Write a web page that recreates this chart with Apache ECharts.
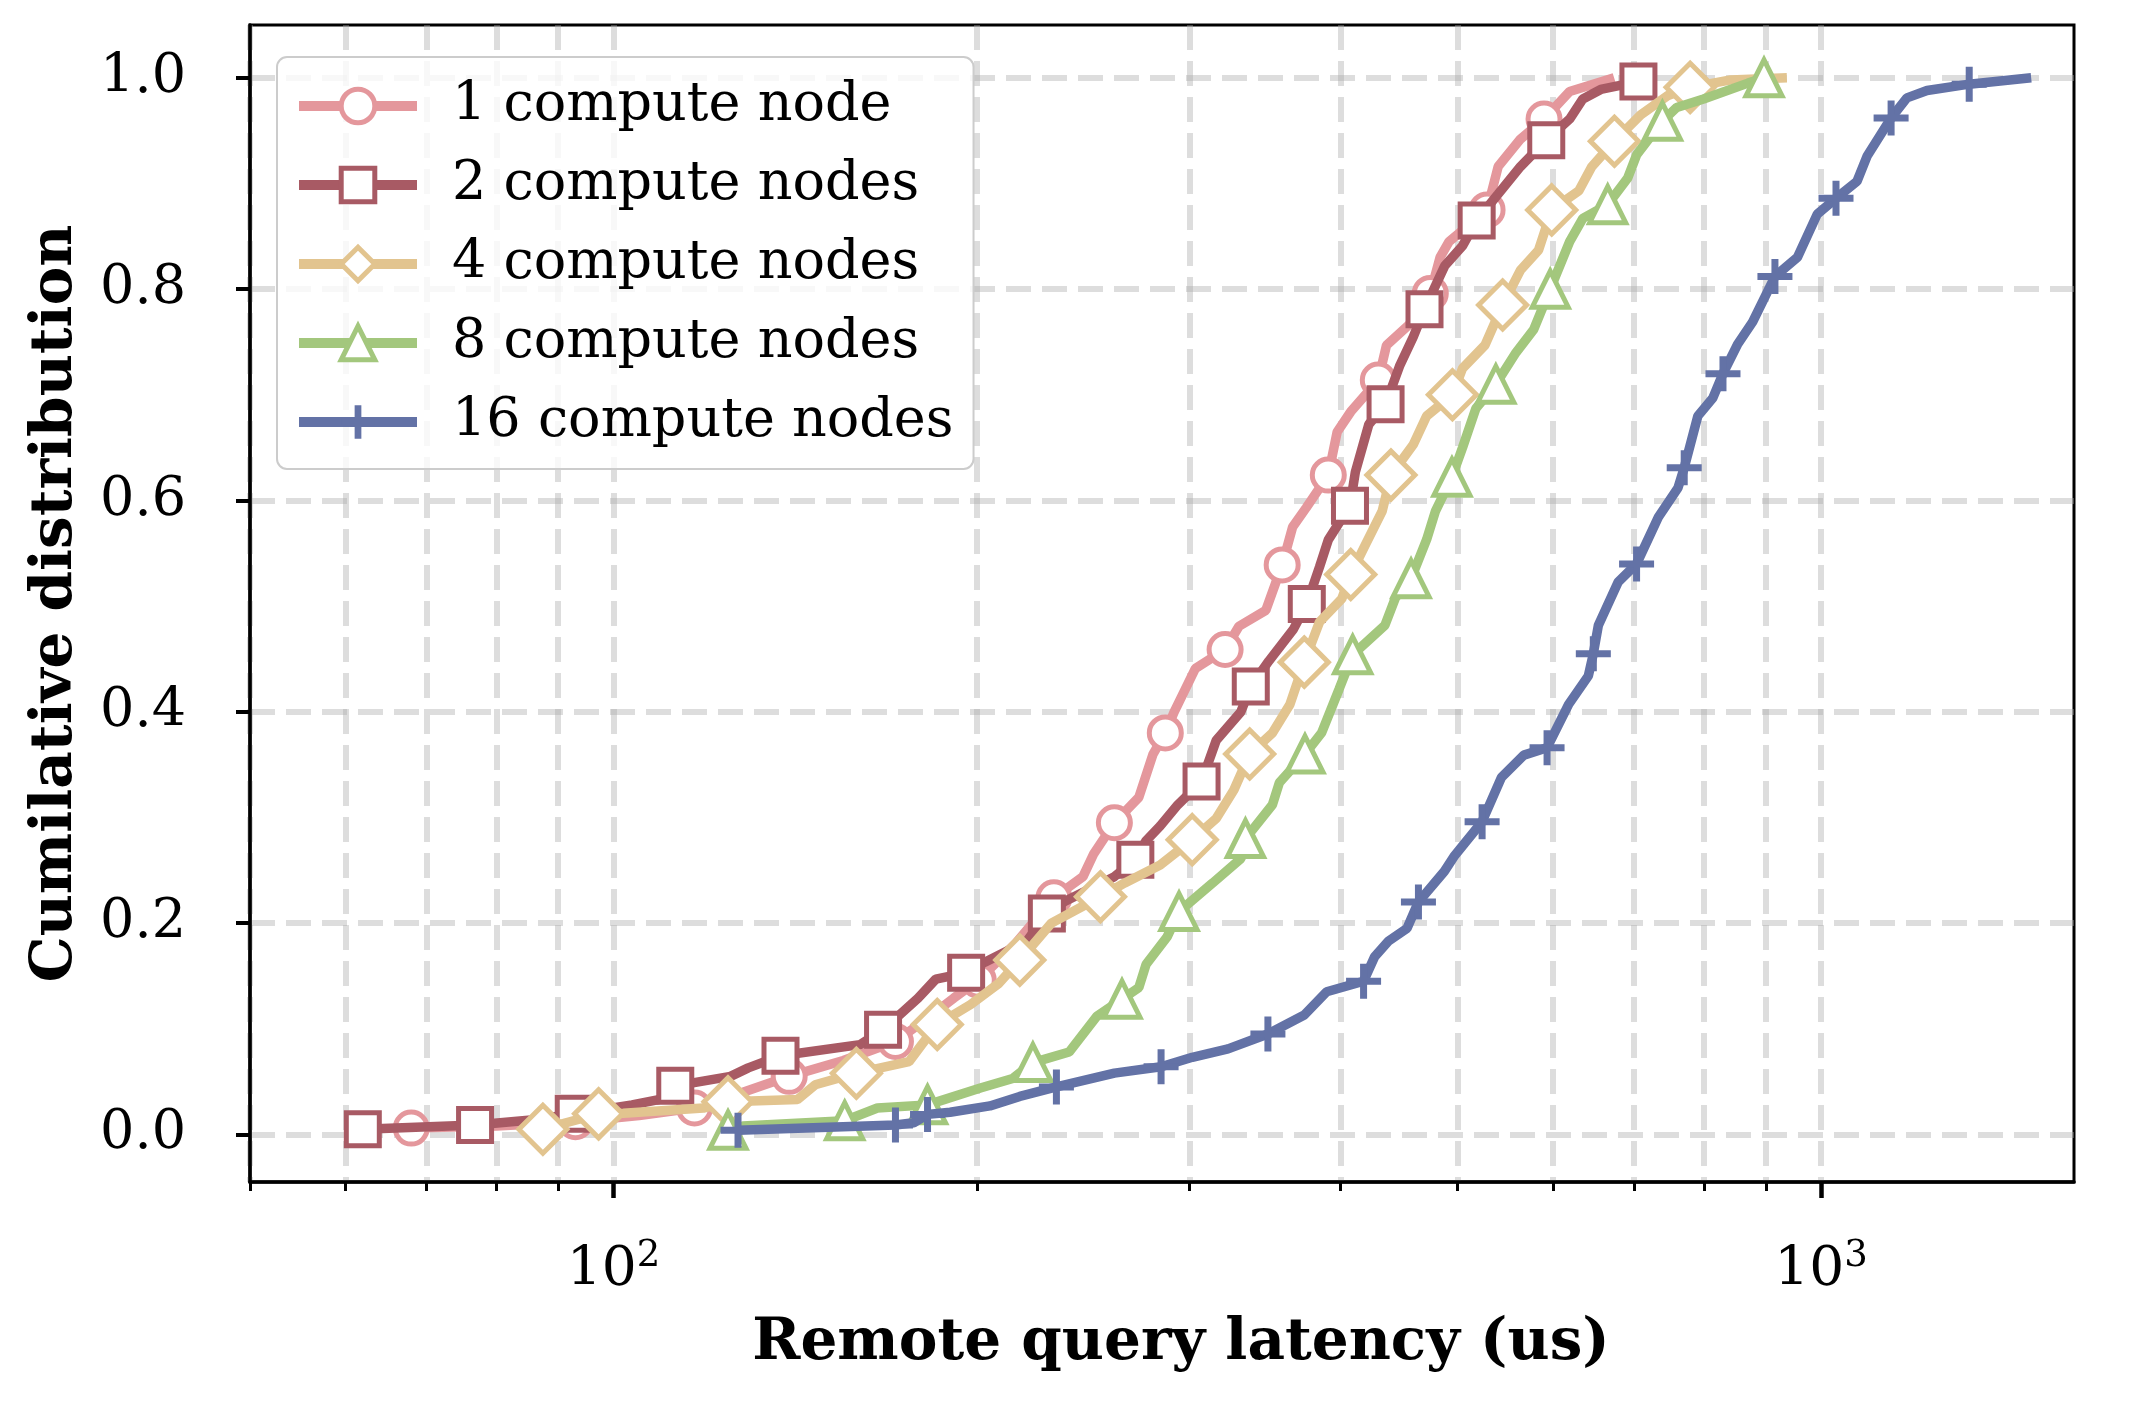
<!DOCTYPE html>
<html>
<head>
<meta charset="utf-8">
<script src="https://cdn.jsdelivr.net/npm/echarts@6/dist/echarts.min.js"></script>
<style>
html, body { margin: 0; padding: 0; background: #fff; }
#chart { width: 2140px; height: 1402px; }
</style>
</head>
<body>
<div id="chart"></div>
<script>
// legend names
const seriesNames = ['1 compute node', '2 compute nodes', '4 compute nodes', '8 compute nodes', '16 compute nodes'];

// [latency (us), cumulative fraction, 1 = marker drawn here]
const node1 = [[68,0.006,1],[80,0.008,0],[93,0.012,1],[105,0.018,0],[116.7,0.025,1],[128,0.040,0],[139.8,0.055,1],[155,0.070,0],
  [171.2,0.088,1],[182,0.110,0],[191.3,0.129,0],[200.5,0.146,1],[215,0.180,0],[231.6,0.224,1],[244.8,0.244,0],[249.7,0.265,0],
  [259.9,0.295,1],[272.3,0.319,0],[279.8,0.360,0],[286.4,0.380,1],[291.3,0.400,0],[303.3,0.441,0],[321,0.459,1],[329.6,0.481,0],
  [346.9,0.496,0],[357.9,0.539,1],[365.1,0.575,0],[374.6,0.593,0],[390.8,0.624,1],[397.5,0.665,0],[407.9,0.684,0],[429.9,0.714,1],
  [436.7,0.747,0],[455.6,0.766,0],[474.7,0.796,1],[483.6,0.830,0],[492,0.845,0],[529,0.875,1],[540.3,0.916,0],[563.8,0.942,0],
  [589.7,0.961,1],[619.2,0.987,0],[674,1.0,0]];

const node2 = [[62,0.005,1],[76.8,0.009,1],[85.9,0.014,0],[92.7,0.0195,1],[103.6,0.028,0],[109,0.033,0],[112.5,0.046,1],[125,0.055,0],
  [129.3,0.063,0],[137.5,0.0745,1],[160,0.085,0],[167.2,0.099,1],[178.7,0.129,0],[184.9,0.147,0],[195.9,0.153,1],[203,0.163,0],
  [220,0.183,0],[228.5,0.209,1],[236.8,0.221,0],[259.9,0.244,0],[270.5,0.260,1],[276.1,0.278,0],[283.6,0.292,0],[293.3,0.312,0],
  [306.9,0.334,1],[315.6,0.373,0],[330.8,0.400,0],[337.1,0.424,1],[348.9,0.448,0],[365.6,0.478,0],[375.1,0.502,1],[384.3,0.537,0],
  [390.9,0.563,0],[407.3,0.595,1],[411.5,0.627,0],[422.2,0.672,0],[435.9,0.691,1],[448,0.728,0],[459.6,0.755,0],[469.5,0.781,1],
  [487.9,0.822,0],[504.8,0.841,0],[518.6,0.865,1],[540.3,0.890,0],[563.8,0.916,0],[592.2,0.941,1],[619.2,0.961,0],[635,0.980,0],
  [657,0.989,0],[706,0.9965,1]];

const node4 = [[87.4,0.005,1],[92,0.012,0],[97.2,0.0195,1],[101.9,0.020,0],[118.7,0.025,0],[124.4,0.031,1],[142,0.033,0],[146.9,0.047,0],
  [158.9,0.058,1],[175.7,0.069,0],[180,0.085,0],[185.4,0.104,1],[197.6,0.123,0],[208.5,0.143,0],[217,0.165,1],[230.5,0.200,0],
  [253.1,0.225,1],[265.1,0.238,0],[283.6,0.255,0],[301.5,0.279,1],[315.6,0.299,0],[326.4,0.326,0],[336.4,0.360,1],[351.3,0.380,0],
  [363.2,0.407,0],[373.3,0.447,1],[384.3,0.485,0],[401,0.507,0],[407.9,0.530,1],[418.6,0.556,0],[433.1,0.590,0],[440.4,0.624,1],
  [459.6,0.653,0],[471.4,0.680,0],[495.2,0.700,1],[504.8,0.725,0],[526.9,0.747,0],[544.9,0.785,1],[563.8,0.818,0],[583.6,0.837,0],
  [598.4,0.875,1],[630,0.893,0],[646,0.916,0],[674.4,0.940,1],[709,0.965,0],[746,0.983,0],[779.2,0.991,1],[841.8,0.998,0],[937,1.0,0]];

const node8 = [[124.4,0.004,1],[128,0.008,0],[155.4,0.013,1],[165.4,0.025,0],[182,0.028,1],[201.3,0.044,0],[214.1,0.053,0],[222.5,0.068,1],
  [238.4,0.078,0],[251.4,0.112,0],[263.7,0.128,1],[272.3,0.139,0],[276.1,0.161,0],[287.4,0.187,0],[294,0.211,1],[313.5,0.238,0],
  [330.8,0.261,0],[333.7,0.280,1],[351.3,0.312,0],[356,0.333,0],[373.8,0.360,1],[385.8,0.380,0],[398.8,0.421,0],[409.4,0.454,1],
  [435.4,0.482,0],[444.2,0.508,0],[457.6,0.526,1],[471.4,0.563,0],[479.4,0.590,0],[494.7,0.622,1],[504.8,0.650,0],[517.8,0.687,0],
  [537.9,0.710,1],[559,0.740,0],[578.3,0.762,0],[596.7,0.800,1],[619.2,0.845,0],[635,0.867,0],[665.8,0.880,1],[691.6,0.905,0],
  [703.5,0.927,0],[739,0.959,1],[759.5,0.972,0],[799.3,0.980,0],[870,0.995,0],[897,1.0,1]];

const node16 = [[126.8,0.004,1],[171.2,0.009,1],[177.2,0.011,0],[182,0.019,1],[190,0.021,0],[205,0.027,0],[217,0.036,0],[232.7,0.045,1],
  [259.9,0.058,0],[284.1,0.064,1],[301.5,0.073,0],[322.8,0.081,0],[348.3,0.095,1],[373.3,0.113,0],[389.6,0.135,0],[418,0.145,1],
  [426.8,0.168,0],[438.3,0.183,0],[454.1,0.195,0],[464.1,0.220,1],[487.6,0.249,0],[496.6,0.263,0],[524,0.296,1],[543.7,0.338,0],
  [567.4,0.359,0],[593.1,0.366,1],[618,0.407,0],[641.7,0.434,0],[647.8,0.455,1],[654.1,0.482,0],[679.4,0.523,0],[703.5,0.540,1],
  [733.1,0.584,0],[761.3,0.612,0],[770.4,0.631,1],[790.7,0.680,0],[813.6,0.697,0],[829.5,0.720,1],[853.1,0.748,0],[877.8,0.769,0],
  [915.9,0.812,1],[955.9,0.830,0],[992.9,0.871,0],[1029,0.886,1],[1071,0.902,0],[1092,0.926,0],[1143,0.962,1],[1178,0.981,0],
  [1224,0.988,0],[1326.6,0.994,1],[1493,1.0,0]];

const xMajorTicks = [100, 1000];
const xMinorTicks = [50, 60, 70, 80, 90, 200, 300, 400, 500, 600, 700, 800, 900];
const yTicks = [0, 0.2, 0.4, 0.6, 0.8, 1.0];

const allData = [node1, node2, node4, node8, node16];
const colors = ['#e4979c', '#a85a64', '#e2c48f', '#a3c77d', '#6372a6'];
const plusPath = 'path://M0,40H100V60H0Z M40,0H60V100H40Z';
const symbols = ['circle', 'rect', 'diamond', 'triangle', plusPath];
const symbolSizes = [32, 33, 48, 36, 35];

const FONT = 'DejaVu Serif';
const LINE_W = 9.5;
const gridLine = { color: 'rgba(170,170,170,0.4)', width: 6, type: [25, 11] };

function buildData(points) {
    return points.map(function (p) {
        return p[2] ? { value: [p[0], p[1]] } : { value: [p[0], p[1]], symbol: 'none' };
    });
}

function itemStyleOf(i) {
    if (i === 4) return { color: colors[i], borderWidth: 0 };
    return { color: '#ffffff', borderColor: colors[i], borderWidth: 5 };
}

const series = allData.map(function (pts, i) {
    return {
        name: seriesNames[i],
        type: 'line',
        xAxisIndex: 0,
        yAxisIndex: 0,
        data: buildData(pts),
        symbol: symbols[i],
        symbolSize: symbolSizes[i],
        showSymbol: true,
        showAllSymbol: true,
        lineStyle: { color: colors[i], width: LINE_W },
        itemStyle: itemStyleOf(i),
        emphasis: { disabled: true },
        z: 2 + i
    };
});

const chart = echarts.init(document.getElementById('chart'));
chart.setOption({
    animation: false,
    backgroundColor: '#fff',
    grid: {
        left: 250, right: 66, top: 25, bottom: 220,
        show: true, borderColor: '#000', borderWidth: 3, backgroundColor: 'transparent'
    },
    legend: {
        orient: 'vertical',
        left: 277, top: 57,
        padding: [22, 20, 20, 17],
        itemWidth: 118, itemHeight: 42, itemGap: 25,
        backgroundColor: 'rgba(255,255,255,0.8)',
        borderColor: '#cccccc', borderWidth: 2, borderRadius: 10,
        selectedMode: false,
        textStyle: { fontFamily: FONT, fontSize: 54, color: '#000', lineHeight: 54, padding: [0, 0, 0, 30] },
        data: seriesNames.map(function (n, i) {
            return { name: n, itemStyle: itemStyleOf(i), lineStyle: { color: colors[i], width: 10 } };
        })
    },
    xAxis: [{
        type: 'log', logBase: 10, min: 50, max: 1620, position: 'bottom',
        name: 'Remote query latency (us)', nameLocation: 'middle', nameGap: 133,
        nameTextStyle: { fontFamily: FONT, fontWeight: 'bold', fontSize: 58, color: '#000', padding: [0, 0, 0, 38] },
        axisLine: { show: true, onZero: false, lineStyle: { color: '#000', width: 3.5 } },
        axisTick: { show: true, customValues: xMajorTicks, length: 16, lineStyle: { color: '#000', width: 4.5 } },
        axisLabel: {
            customValues: xMajorTicks, margin: 56,
            formatter: function (v) { return '{b|10}{s|' + Math.round(Math.log10(v)) + '}'; },
            rich: {
                b: { fontFamily: FONT, fontSize: 55, color: '#000', lineHeight: 66 },
                s: { fontFamily: FONT, fontSize: 37, color: '#000', lineHeight: 37, verticalAlign: 'top' }
            }
        },
        splitLine: { show: true, lineStyle: gridLine },
        minorTick: { show: false }, minorSplitLine: { show: false }
    }, {
        type: 'log', logBase: 10, min: 50, max: 1620, position: 'bottom',
        axisLine: { show: false, onZero: false },
        axisTick: { show: true, customValues: xMinorTicks, length: 9, lineStyle: { color: '#000', width: 3 } },
        axisLabel: { show: false },
        splitLine: { show: true, lineStyle: gridLine }
    }],
    yAxis: {
        type: 'value', min: -0.045, max: 1.05,
        name: 'Cumilative distribution', nameLocation: 'middle', nameGap: 165,
        nameTextStyle: { fontFamily: FONT, fontWeight: 'bold', fontSize: 58, color: '#000' },
        axisLine: { show: true, lineStyle: { color: '#000', width: 3.5 } },
        axisTick: { show: true, customValues: yTicks, length: 14, lineStyle: { color: '#000', width: 4 } },
        axisLabel: {
            customValues: yTicks, margin: 64,
            fontFamily: FONT, fontSize: 54, color: '#000',
            formatter: function (v) { return v.toFixed(1); }
        },
        splitLine: { show: true, lineStyle: gridLine }
    },
    series: series
});
</script>
</body>
</html>
